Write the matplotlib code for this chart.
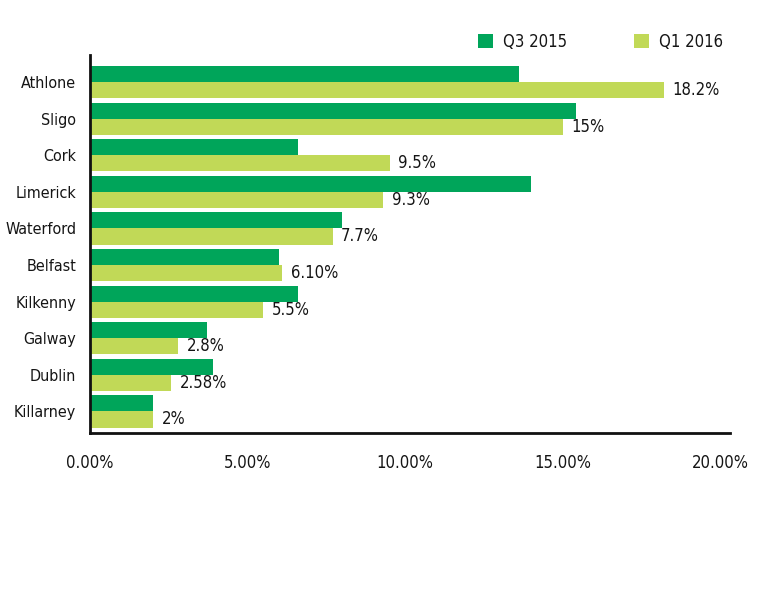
import numpy as np
import matplotlib.pyplot as plt

plt.rcParams['font.family'] = ['DejaVu Sans']
plt.rcParams['font.stretch'] = 'condensed'

cities = ["Athlone", "Sligo", "Cork", "Limerick", "Waterford",
          "Belfast", "Kilkenny", "Galway", "Dublin", "Killarney"]
q3_2015 = [13.6, 15.4, 6.6, 14.0, 8.0, 6.0, 6.6, 3.7, 3.9, 2.0]
q1_2016 = [18.2, 15.0, 9.5, 9.3, 7.7, 6.1, 5.5, 2.8, 2.58, 2.0]
q1_labels = ["18.2%", "15%", "9.5%", "9.3%", "7.7%", "6.10%", "5.5%", "2.8%", "2.58%", "2%"]
xticks = [0, 5, 10, 15, 20]
xtick_labels = ["0.00%", "5.00%", "10.00%", "15.00%", "20.00%"]

dark = '#00A55A'
light = '#C1D957'
txt = '#151515'

fig = plt.figure(figsize=(7.67, 5.89), dpi=100)
ax = fig.add_axes([90/767, 1-433/589, 640/767, 378/589])

y = np.arange(len(cities))
h = 0.44
b1 = ax.barh(y - h/2, q3_2015, height=h, color=dark, label='Q3 2015')
b2 = ax.barh(y + h/2, q1_2016, height=h, color=light, label='Q1 2016')
ax.bar_label(b2, labels=q1_labels, padding=6, fontsize=12, color=txt)

ax.set_ylim(9.59, -0.74)
ax.set_xlim(0, 20.3)
ax.set_yticks(y)
ax.set_yticklabels(cities, fontsize=11.5, color=txt)
ax.set_xticks(xticks)
ax.set_xticklabels(xtick_labels, fontsize=12, color=txt)
ax.tick_params(axis='y', length=0, pad=10)
ax.tick_params(axis='x', length=0, pad=15)

for s in ['top', 'right']:
    ax.spines[s].set_visible(False)
for s in ['left', 'bottom']:
    ax.spines[s].set_linewidth(2)
    ax.spines[s].set_color('#111111')

fig.legend(handles=[b1, b2], loc='center right', bbox_to_anchor=(738/767, 1-42/589),
           ncol=2, frameon=False, fontsize=12, handlelength=0.9, handleheight=0.9,
           handletextpad=0.6, columnspacing=4.0, labelcolor=txt)

plt.savefig('out.png', dpi=100)
